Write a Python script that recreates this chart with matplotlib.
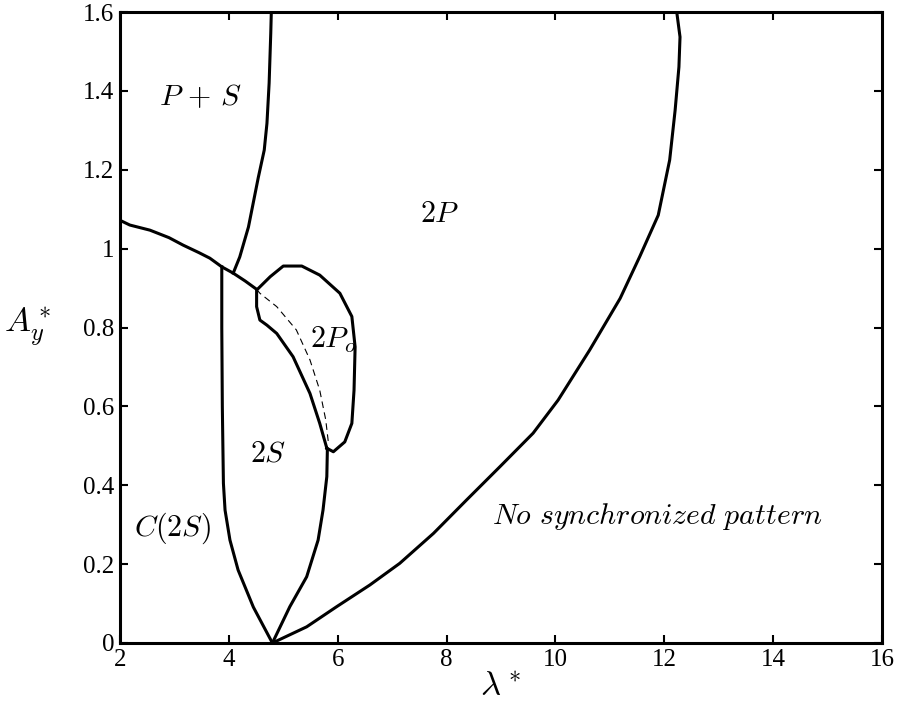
import matplotlib
matplotlib.use("Agg")
import matplotlib.pyplot as plt

plt.rcParams['mathtext.fontset'] = 'cm'
plt.rcParams['font.family'] = 'serif'
plt.rcParams['font.serif'] = ['Liberation Serif', 'DejaVu Serif']

# boundary between P+S and C(2S)/2P_o
a_x = [2.0, 2.18, 2.55, 2.9, 3.16, 3.45, 3.65, 3.87, 4.08, 4.3, 4.51]
a_y = [1.072, 1.06, 1.047, 1.028, 1.009, 0.99, 0.976, 0.954, 0.938, 0.918, 0.897]

# boundary between P+S and 2P
b_x = [4.08, 4.2, 4.36, 4.54, 4.65, 4.70, 4.74, 4.77, 4.78]
b_y = [0.938, 0.979, 1.055, 1.18, 1.25, 1.318, 1.42, 1.547, 1.6]

# left edge of 2S
c_x = [3.87, 3.87, 3.88, 3.89, 3.90, 3.93, 4.02, 4.17, 4.45, 4.80]
c_y = [0.954, 0.8, 0.6, 0.5, 0.405, 0.337, 0.261, 0.185, 0.091, 0.0]

# right edge of 2S
d_x = [4.80, 5.12, 5.43, 5.64, 5.73, 5.80, 5.81]
d_y = [0.0, 0.092, 0.168, 0.261, 0.337, 0.422, 0.489]

# closed loop around 2P_o
po_x = [5.80, 5.67, 5.49, 5.18, 4.88, 4.70, 4.57, 4.51, 4.51, 4.76, 5.0, 5.34,
        5.67, 6.04, 6.26, 6.32, 6.30, 6.26, 6.13, 5.92, 5.80]
po_y = [0.494, 0.557, 0.633, 0.726, 0.785, 0.806, 0.819, 0.853, 0.895, 0.929,
        0.956, 0.956, 0.933, 0.887, 0.828, 0.751, 0.641, 0.557, 0.51, 0.485, 0.494]

# dashed branch inside 2P_o
dash_x = [4.51, 4.57, 4.88, 5.24, 5.49, 5.67, 5.78, 5.83]
dash_y = [0.897, 0.887, 0.853, 0.794, 0.718, 0.641, 0.566, 0.507]

# outer boundary of 2P
e_x = [4.80, 5.43, 5.98, 6.59, 7.14, 7.76, 8.37, 8.98, 9.59, 10.05, 10.63,
       11.19, 11.55, 11.89, 12.10, 12.20, 12.27, 12.29, 12.23]
e_y = [0.0, 0.041, 0.092, 0.147, 0.202, 0.278, 0.363, 0.447, 0.532, 0.616, 0.743,
       0.874, 0.98, 1.085, 1.225, 1.351, 1.461, 1.537, 1.6]

region_labels = [
    (r'$P\,+\,S$', 3.47, 1.384),
    (r'$2P$', 7.88, 1.085),
    (r'$2P_o$', 5.91, 0.768),
    (r'$2S$', 4.72, 0.477),
    (r'$C(2S)$', 2.96, 0.29),
    (r'$No\ synchronized\ pattern$', 11.88, 0.32),
]

x_ticks = [2, 4, 6, 8, 10, 12, 14, 16]
y_ticks = [0, 0.2, 0.4, 0.6, 0.8, 1.0, 1.2, 1.4, 1.6]
y_tick_labels = ['0', '0.2', '0.4', '0.6', '0.8', '1', '1.2', '1.4', '1.6']

fig = plt.figure(figsize=(8.99, 7.13), dpi=100)
ax = fig.add_axes([0.1335, 0.0982, 0.981 - 0.1335, 0.983 - 0.0982])

lw = 2.2
for xs, ys in [(a_x, a_y), (b_x, b_y), (c_x, c_y), (d_x, d_y), (po_x, po_y), (e_x, e_y)]:
    ax.plot(xs, ys, color='black', lw=lw, solid_joinstyle='round')
ax.plot(dash_x, dash_y, color='black', lw=0.8, ls=(0, (6, 4)))

for txt, x, y in region_labels:
    ax.text(x, y, txt, fontsize=21.5, ha='center', va='center')

ax.set_xlim(2, 16)
ax.set_ylim(0, 1.6)
ax.set_xticks(x_ticks)
ax.set_xticklabels([str(t) for t in x_ticks])
ax.set_yticks(y_ticks)
ax.set_yticklabels(y_tick_labels)
ax.tick_params(direction='in', length=6, width=1.5, top=True, right=True,
               labelsize=18, pad=4)
for s in ax.spines.values():
    s.set_linewidth(2.2)

ax.set_xlabel(r'$\lambda^*$', fontsize=25, labelpad=0)
ax.set_ylabel(r'$A_y^*$', fontsize=25, rotation=0, va='center', ha='center')
ax.yaxis.set_label_coords(-0.122, 0.5)

fig.savefig('out.png', dpi=100)
